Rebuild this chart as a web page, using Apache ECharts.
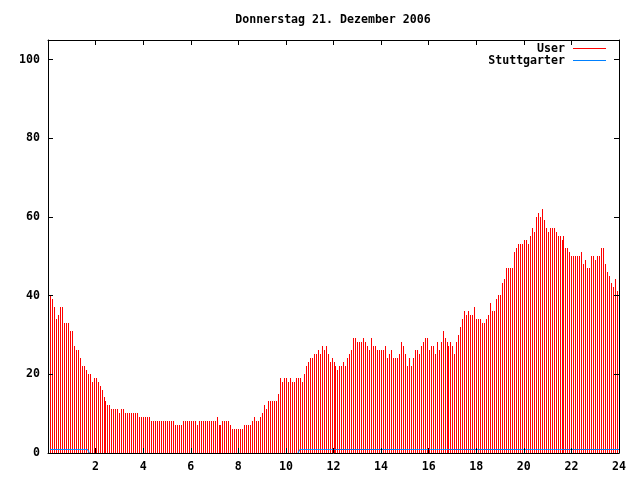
<!DOCTYPE html>
<html>
<head>
<meta charset="utf-8">
<script src="https://cdn.jsdelivr.net/npm/echarts@6/dist/echarts.min.js"></script>
<style>html,body{margin:0;padding:0;background:#fff}#c{width:640px;height:480px}</style>
</head>
<body>
<div id="c"></div>
<script>
const chartTitle = 'Donnerstag 21. Dezember 2006';
const seriesNames = ['User', 'Stuttgarter'];
const xTickValues = [0, 2, 4, 6, 8, 10, 12, 14, 16, 18, 20, 22, 24];
const yTickValues = [0, 20, 40, 60, 80, 100];
const sampleStepMinutes = 5;

// Users online, one value per 5-minute sample (00:05 ... 24:00)
const userValues = [
  40, 39, 37, 34, 35, 37, 37, 33, 33, 33,
  31, 31, 27, 26, 26, 24, 22, 22, 21, 20,
  20, 18, 19, 19, 18, 17, 16, 14, 13, 12,
  12, 11, 11, 11, 11, 10, 11, 11, 10, 10,
  10, 10, 10, 10, 10, 9, 9, 9, 9, 9,
  9, 8, 8, 8, 8, 8, 8, 8, 8, 8,
  8, 8, 8, 7, 7, 7, 7, 8, 8, 8,
  8, 8, 8, 8, 7, 8, 8, 8, 8, 8,
  8, 8, 8, 8, 9, 7, 7, 8, 8, 8,
  8, 7, 6, 6, 6, 6, 6, 6, 7, 7,
  7, 7, 8, 9, 8, 8, 9, 10, 12, 11,
  13, 13, 13, 13, 13, 15, 19, 18, 19, 19,
  18, 19, 18, 18, 19, 19, 19, 18, 20, 22,
  23, 24, 24, 25, 25, 26, 25, 27, 26, 27,
  25, 23, 24, 23, 22, 21, 22, 22, 23, 22,
  24, 25, 26, 29, 29, 28, 28, 28, 29, 28,
  27, 26, 29, 27, 27, 26, 26, 26, 26, 27,
  24, 25, 26, 24, 24, 24, 25, 28, 27, 25,
  22, 24, 22, 24, 26, 26, 25, 27, 28, 29,
  29, 26, 27, 27, 25, 28, 26, 28, 31, 29,
  28, 27, 28, 27, 25, 28, 30, 32, 34, 36,
  35, 36, 35, 35, 37, 34, 34, 34, 33, 33,
  34, 35, 38, 36, 36, 39, 40, 40, 43, 44,
  47, 47, 47, 47, 51, 52, 53, 53, 53, 54,
  54, 53, 55, 57, 56, 60, 61, 60, 62, 59,
  57, 56, 57, 57, 57, 56, 55, 55, 54, 55,
  52, 52, 51, 50, 50, 50, 50, 50, 51, 48,
  49, 47, 47, 50, 50, 49, 50, 50, 52, 52,
  48, 46, 45, 43, 42, 44, 41, 41
];

// Stuttgart users online, same samples
const stuttgarterValues = [
  1, 1, 1, 1, 1, 1, 1, 1, 1, 1,
  1, 1, 1, 1, 1, 1, 1, 1, 1, 1,
  0, 0, 0, 0, 0, 0, 0, 0, 0, 0,
  0, 0, 0, 0, 0, 0, 0, 0, 0, 0,
  0, 0, 0, 0, 0, 0, 0, 0, 0, 0,
  0, 0, 0, 0, 0, 0, 0, 0, 0, 0,
  0, 0, 0, 0, 0, 0, 0, 0, 0, 0,
  0, 0, 0, 0, 0, 0, 0, 0, 0, 0,
  0, 0, 0, 0, 0, 0, 0, 0, 0, 0,
  0, 0, 0, 0, 0, 0, 0, 0, 0, 0,
  0, 0, 0, 0, 0, 0, 0, 0, 0, 0,
  0, 0, 0, 0, 0, 0, 0, 0, 0, 0,
  0, 0, 0, 0, 0, 0, 1, 1, 1, 1,
  1, 1, 1, 1, 1, 1, 1, 1, 1, 1,
  1, 1, 1, 1, 1, 1, 1, 1, 1, 1,
  1, 1, 1, 1, 1, 1, 1, 1, 1, 1,
  1, 1, 1, 1, 1, 1, 1, 1, 1, 1,
  1, 1, 1, 1, 1, 1, 1, 1, 1, 1,
  1, 1, 1, 1, 1, 1, 1, 1, 1, 1,
  1, 1, 1, 1, 1, 1, 1, 1, 1, 1,
  1, 1, 1, 1, 1, 1, 1, 1, 1, 1,
  1, 1, 1, 1, 1, 1, 1, 1, 1, 1,
  1, 1, 1, 1, 1, 1, 1, 1, 1, 1,
  1, 1, 1, 1, 1, 1, 1, 1, 1, 1,
  1, 1, 1, 1, 1, 1, 1, 1, 1, 1,
  1, 1, 1, 1, 1, 1, 1, 1, 1, 1,
  1, 1, 1, 1, 1, 1, 1, 1, 1, 1,
  1, 1, 1, 1, 1, 1, 1, 1, 1, 1,
  1, 1, 1, 1, 1, 1, 1, 1
];

// sample times in hours of the day (end of each 5-minute slot)
const sampleHours = userValues.map((_, i) => ((i + 1) * sampleStepMinutes) / 60);

const FONT_FAMILY = '"DejaVu Sans Mono", "Liberation Mono", monospace';
const FONT_SIZE = 11.6;
const labelFont = { fontFamily: FONT_FAMILY, fontWeight: 'bold', fontSize: FONT_SIZE, color: '#000' };

function renderImpulse(params, api) {
  const t = api.value(0), v = api.value(1);
  const base = api.coord([t, 0]);
  const top = api.coord([t, v]);
  const x = Math.round(base[0]);
  const y0 = Math.floor(top[1]);
  const y1 = Math.round(base[1]);
  return {
    type: 'rect',
    shape: { x: x, y: y0, width: 1, height: Math.max(0, y1 - y0) },
    style: { fill: api.visual('color') }
  };
}

function renderLineSegment(params, api) {
  const i = params.dataIndexInside;
  if (i === 0) return null;
  const a = api.coord([api.value(0, i - 1), api.value(1, i - 1)]);
  const b = api.coord([api.value(0, i), api.value(1, i)]);
  const snap = y => Math.round(y) + 0.5;
  return {
    type: 'line',
    shape: { x1: a[0], y1: snap(a[1]), x2: b[0], y2: snap(b[1]) },
    style: { stroke: api.visual('color'), lineWidth: 1 }
  };
}

const axisLineStyle = { show: true, onZero: false, lineStyle: { color: '#000', width: 1 } };
const axisTickStyle = { show: true, inside: true, length: 5, lineStyle: { color: '#000', width: 1 } };

const chart = echarts.init(document.getElementById('c'), null, { renderer: 'canvas' });
chart.setOption({
  animation: false,
  backgroundColor: '#fff',
  grid: { left: 48, right: 21, top: 40, bottom: 27, containLabel: false, outerBoundsMode: 'none' },
  graphic: [{
    type: 'text',
    x: 333,
    y: 19.5,
    style: {
      text: chartTitle,
      font: 'bold ' + FONT_SIZE + 'px ' + FONT_FAMILY,
      fill: '#000',
      align: 'center',
      verticalAlign: 'middle',
      textAlign: 'center',
      textVerticalAlign: 'middle'
    }
  }],
  legend: {
    orient: 'vertical',
    right: 34,
    top: 42.5,
    align: 'right',
    padding: 0,
    itemWidth: 33,
    itemHeight: 1,
    itemGap: 0,
    icon: 'rect',
    selectedMode: false,
    textStyle: Object.assign({}, labelFont, { lineHeight: 12, padding: [0, 3, 0, 0] }),
    data: [
      { name: seriesNames[0], itemStyle: { color: '#ff0000' } },
      { name: seriesNames[1], itemStyle: { color: '#0080ff' } }
    ]
  },
  xAxis: [
    {
      type: 'value', position: 'bottom', min: xTickValues[0], max: xTickValues[xTickValues.length - 1], interval: 2,
      axisLine: axisLineStyle, axisTick: axisTickStyle, splitLine: { show: false },
      axisLabel: Object.assign({ margin: 8, formatter: v => (v === 0 ? '' : String(v)) }, labelFont),
      z: 10
    },
    {
      type: 'value', position: 'top', min: xTickValues[0], max: xTickValues[xTickValues.length - 1], interval: 2,
      axisLine: axisLineStyle, axisTick: axisTickStyle, splitLine: { show: false },
      axisLabel: { show: false }, z: 10
    }
  ],
  yAxis: [
    {
      type: 'value', position: 'left', min: 0, max: 105, interval: 20,
      axisLine: axisLineStyle, axisTick: axisTickStyle, splitLine: { show: false },
      axisLabel: Object.assign({ margin: 8, formatter: v => (yTickValues.indexOf(v) >= 0 ? String(v) : '') }, labelFont),
      z: 10
    },
    {
      type: 'value', position: 'right', min: 0, max: 105, interval: 20,
      axisLine: axisLineStyle, axisTick: axisTickStyle, splitLine: { show: false },
      axisLabel: { show: false }, z: 10
    }
  ],
  series: [
    {
      name: seriesNames[0],
      type: 'custom',
      xAxisIndex: 0, yAxisIndex: 0,
      itemStyle: { color: '#ff0000' },
      renderItem: renderImpulse,
      data: userValues.map((v, i) => [sampleHours[i], v]),
      z: 1
    },
    {
      name: seriesNames[1],
      type: 'custom',
      xAxisIndex: 0, yAxisIndex: 0,
      itemStyle: { color: '#0080ff' },
      renderItem: renderLineSegment,
      data: stuttgarterValues.map((v, i) => [sampleHours[i], v]),
      z: 2
    }
  ]
});
</script>
</body>
</html>
